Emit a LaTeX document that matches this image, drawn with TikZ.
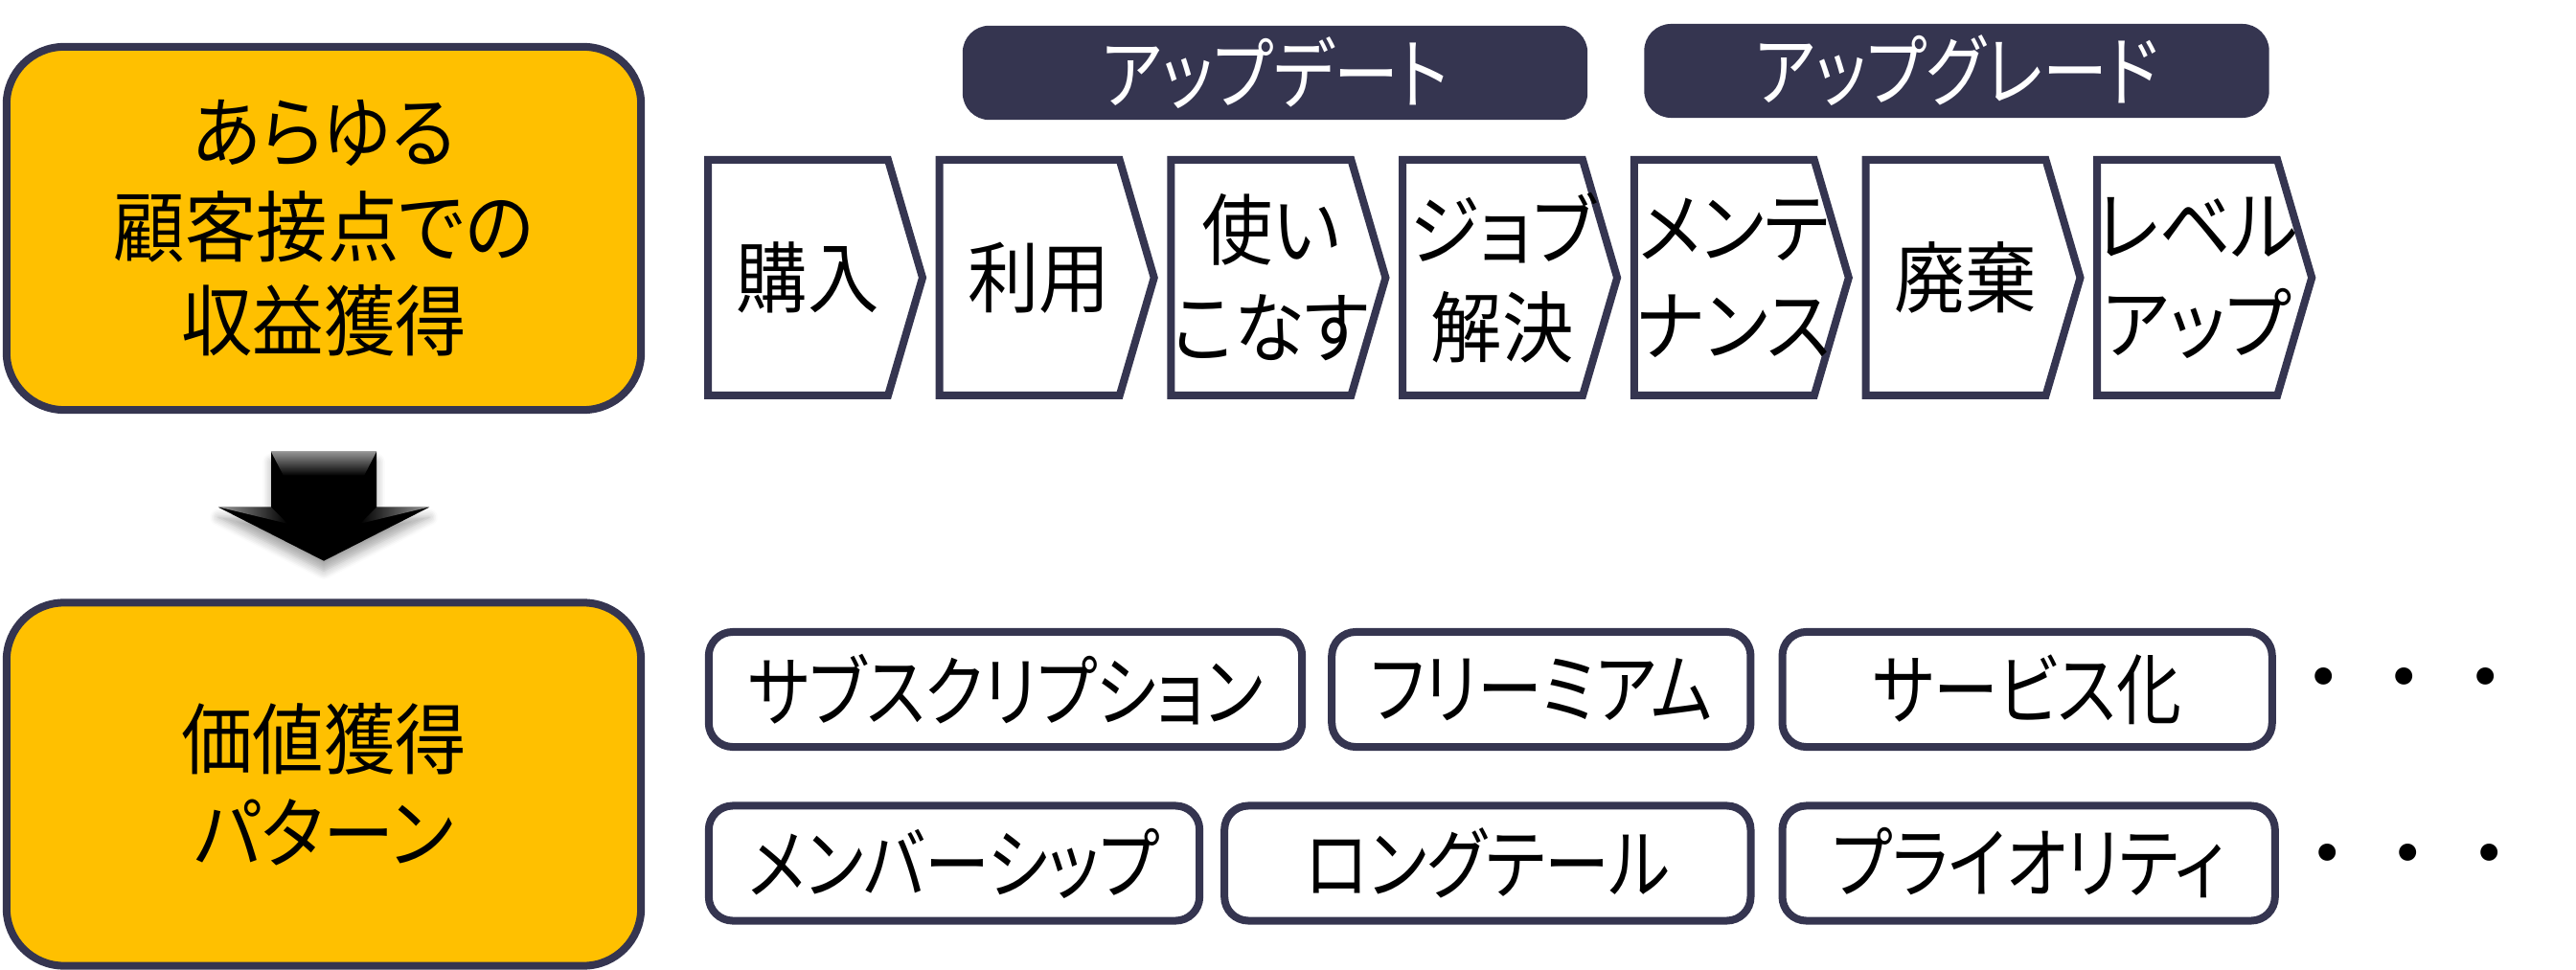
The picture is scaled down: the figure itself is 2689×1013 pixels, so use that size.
\documentclass[tikz,border=0pt]{standalone}
\usepackage{fontspec}
\setmainfont[RawFeature=+palt,FakeStretch=0.92]{Noto Sans CJK JP}
\newfontfamily\kanafont[RawFeature=+palt,FakeStretch=0.84]{Noto Sans CJK JP}
\newfontfamily\dotfont{Noto Sans CJK JP}
\usetikzlibrary{positioning,calc,shadows.blur}

\definecolor{navy}{RGB}{53,53,80}
\definecolor{gold}{RGB}{255,192,0}

\tikzset{
	bigbox/.style={draw=navy,fill=gold,line width=0.08cm,rounded corners=0.6cm,minimum width=6.62cm,minimum height=3.79cm,align=center,font=\fontsize{23}{28}\selectfont},
	chev/.style={draw=navy,fill=white,line width=0.08cm},
	chevtext/.style={align=center,inner sep=0pt,font=\fontsize{23}{29}\selectfont},
	banner/.style={fill=navy,text=white,rounded corners=0.28cm,minimum width=6.52cm,minimum height=0.98cm,font=\kanafont\fontsize{23}{26}\selectfont},
	pill/.style={draw=navy,fill=white,line width=0.08cm,rounded corners=0.25cm,minimum height=1.20cm,inner sep=0pt,font=\kanafont\fontsize{23}{26}\selectfont},
	dots/.style={inner sep=0pt,font=\dotfont\fontsize{24}{26}\selectfont},
}

\begin{document}
\begin{tikzpicture}[x=0.01cm,y=-0.01cm,line join=miter]
	\useasboundingbox (0,0) rectangle (2689,1013);
	% left side
	\node[bigbox] (earn) at (338,238.5) {あらゆる\\顧客接点での\\収益獲得};
	\node[bigbox] (value) at (338,819) {価値獲得\\パターン};
	\coordinate (arr) at ($(earn.south)!.5!(value.north)$);
	\fill[black,blur shadow={shadow xshift=0pt,shadow yshift=-3pt,shadow blur radius=2.5pt,shadow blur steps=6,shadow opacity=35}]
	([shift={(-55,-57)}]arr) -- ++(110,0) -- ++(0,58) -- ++(55,0) -- ++(-110,56) -- ++(-110,-56) -- ++(55,0) -- cycle;
	\shade[top color=gray!85,bottom color=black] ([shift={(-55,-57)}]arr) -- ++(110,0) -- ++(-13,25) -- ++(-84,0) -- cycle;
	\shade[left color=gray!80,right color=black] ([shift={(-109,1)}]arr) -- ++(54,0) -- ++(17,17) -- cycle;
	\shade[left color=black,right color=gray!80] ([shift={(109,1)}]arr) -- ++(-54,0) -- ++(-17,17) -- cycle;
	% banners
	\node[banner] (upd) at (1331,76) {アップデート};
	\node[banner] (upg) at (2042.5,74) {アップグレード};
	% chevrons
	\foreach \t [count=\i] in {購入,利用,{使い\\こなす},{ジョブ\\解決},{メンテ\\ナンス},廃棄,{レベル\\アップ}}{
		\pgfmathsetmacro\x{739+241.7*(\i-1)}
		\draw[chev] (\x,167) -- ++(188,0) -- ++(36,123) -- ++(-36,123) -- ++(-188,0) -- cycle;
		\node[chevtext] (c\i) at ({\x+104},290) {\t};
	}
	% patterns
	\node[pill,minimum width=6.19cm] (sub) at (1049.5,720) {サブスクリプション};
	\node[pill,minimum width=4.37cm,right=0.23cm of sub] (free) {フリーミアム};
	\node[pill,minimum width=5.11cm,right=0.25cm of free] (serv) {サービス化};
	\node[pill,minimum width=5.12cm] (mem) at (996,901.5) {メンバーシップ};
	\node[pill,minimum width=5.49cm,right=0.18cm of mem] (long) {ロングテール};
	\node[pill,minimum width=5.14cm,right=0.25cm of long] (prio) {プライオリティ};
	\node[dots] (more1) at (2510,718) {・・・};
	\node[dots] (more2) at (2514,902) {・・・};
\end{tikzpicture}
\end{document}
